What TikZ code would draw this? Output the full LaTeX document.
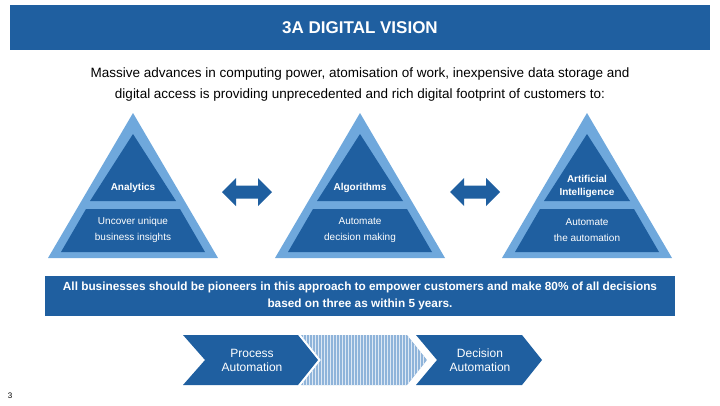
\documentclass[tikz,border=0pt]{standalone}
\usepackage{fontspec}
\setmainfont{Liberation Sans}
\usetikzlibrary{patterns}
\definecolor{dblue}{HTML}{1F5FA0}
\definecolor{lblue}{HTML}{6FA8DC}
\definecolor{hblue}{HTML}{8FB4DA}
\tikzset{x=1pt,y=-1pt,
 wt/.style={text=white,align=center}}
\newcommand{\pyr}[1]{%
 \fill[lblue] (#1,113) -- (#1+85,258) -- (#1-85,258) -- cycle;
 \fill[dblue] (#1,134) -- (#1+43,201) -- (#1-43,201) -- cycle;
 \fill[dblue] (#1-47,209) -- (#1+47,209) -- (#1+72,252) -- (#1-72,252) -- cycle;
}
\newcommand{\dblarr}[1]{%
 \fill[dblue] (#1-25,192) -- (#1-11,178) -- (#1-11,185.5) -- (#1+11,185.5) -- (#1+11,178) -- (#1+25,192) -- (#1+11,206) -- (#1+11,198.5) -- (#1-11,198.5) -- (#1-11,206) -- cycle;
}
\begin{document}
\begin{tikzpicture}
\useasboundingbox (0,0) rectangle (720,405);
\fill[dblue] (10,5) rectangle (710,50);
\node[text=white,font=\bfseries\fontsize{17}{20}\selectfont] (title) at (360,28) {3A DIGITAL VISION};
\node[align=center,font=\fontsize{13.5}{21}\selectfont] (sub) at (360,85) {Massive advances in computing power, atomisation of work, inexpensive data storage and\\digital access is providing unprecedented and rich digital footprint of customers to:};
\pyr{133}
\pyr{360}
\pyr{587}
\node[wt,font=\bfseries\fontsize{10}{12}\selectfont] (a1) at (133,188) {Analytics};
\node[wt,font=\bfseries\fontsize{10}{12}\selectfont] (a2) at (360,188) {Algorithms};
\node[wt,font=\bfseries\fontsize{10}{13}\selectfont] (a3) at (587,186) {Artificial\\Intelligence};
\node[wt,font=\fontsize{10}{16}\selectfont] (b1) at (133,230) {Uncover unique\\business insights};
\node[wt,font=\fontsize{10}{16}\selectfont] (b2) at (360,230) {Automate\\decision making};
\node[wt,font=\fontsize{10}{16}\selectfont] (b3) at (587,230) {Automate\\the automation};
\dblarr{247}
\dblarr{475}
\fill[dblue] (45,276) rectangle (675,316);
\node[wt,font=\bfseries\fontsize{11.8}{17}\selectfont] (ban) at (360,296) {All businesses should be pioneers in this approach to empower customers and make 80\% of all decisions\\based on three as within 5 years.};
\fill[dblue] (183,335) -- (298,335) -- (318,360) -- (298,385) -- (183,385) -- (205,360) -- cycle;
\fill[hblue] (301,335) -- (407,335) -- (427,360) -- (407,385) -- (301,385) -- (321,360) -- cycle;
\fill[pattern=vertical lines,pattern color=white!70!hblue] (301,335) -- (407,335) -- (427,360) -- (407,385) -- (301,385) -- (321,360) -- cycle;
\fill[dblue] (416,335) -- (522,335) -- (542,360) -- (522,385) -- (416,385) -- (437,360) -- cycle;
\node[wt,font=\fontsize{12}{14}\selectfont] (p1) at (252,360) {Process\\Automation};
\node[wt,font=\fontsize{12}{14}\selectfont] (p3) at (480,360) {Decision\\Automation};
\node[font=\fontsize{8}{9}\selectfont] (pg) at (10,396) {3};
\end{tikzpicture}
\end{document}
